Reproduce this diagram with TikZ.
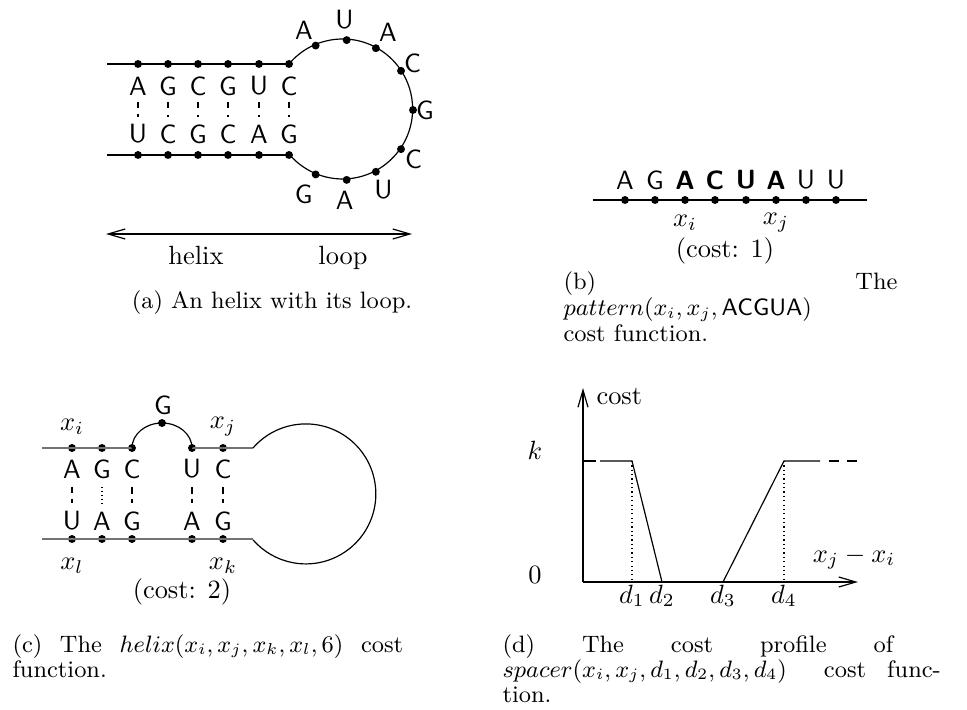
\documentclass[tikz,border=0pt]{standalone}
\usetikzlibrary{arrows.meta}
\begin{document}
\begin{tikzpicture}[x=0.3788pt,y=-0.3788pt,
  dot/.style={circle,fill=black,inner sep=0pt,minimum size=3pt},
  nuc/.style={font=\sffamily,inner sep=0pt},
  bnuc/.style={font=\sffamily\bfseries,inner sep=0pt},
  lbl/.style={inner sep=0pt},
  wire/.style={line width=0.45pt},
  gwire/.style={line width=0.8pt,draw=black!55},
  pairline/.style={line width=0.4pt,dash pattern=on 2.3pt off 2.5pt,shorten <=2.3pt,shorten >=2.6pt},
  cpair/.style={line width=0.4pt,dash pattern=on 2.6pt off 2pt,shorten <=3pt,shorten >=3pt},
  wobline/.style={line width=0.45pt,dash pattern=on 0.45pt off 1.1pt,shorten <=3pt,shorten >=3pt},
  vdots/.style={line width=0.45pt,dash pattern=on 0.45pt off 1.2pt},
  barb/.style={-{Straight Barb[length=6.5pt,width=3.8pt]}},
  captext/.style={font=\small,inner sep=0pt}
]
\useasboundingbox (0,0) rectangle (967,710);

%% ---------------- (a) ----------------
\coordinate (aTL) at (107,64);
\coordinate (aBL) at (107,155);
\coordinate (ac) at (343,110);
\foreach \i/\x in {1/138,2/168,3/198,4/228,5/259,6/289}{
  \node[dot] (t\i) at (\x,64) {};
  \node[dot] (b\i) at (\x,155) {};
}
\draw[wire] (aTL) -- (t6.center);
\draw[wire] (aBL) -- (b6.center);
\draw[wire] (t6.center) arc[start angle=-140, end angle=140, radius=70];
\foreach \i/\x/\u/\l in {1/138/A/U,2/168/G/C,3/198/C/G,4/228/G/C,5/259/U/A,6/289/C/G}{
  \node[nuc] (tl\i) at (\x,86) {\u};
  \node[nuc] (bl\i) at (\x,134) {\l};
  \draw[pairline] (tl\i.south) -- (bl\i.north);
}
\foreach \k/\a in {1/-113,2/-87,3/-62,4/-34,5/0,6/34,7/62,8/87,9/113}{
  \node[dot] (ld\k) at ([shift={(\a:70)}]ac) {};
}
\foreach \k/\a/\r/\n in {1/-116/89/A,2/-89/90/U,3/-60/90/A,4/-34/84/C,5/0/82/G,6/35/86/C,7/63/89/U,8/89/90/A,9/115/93/G}{
  \node[nuc] (ll\k) at ([shift={(\a:\r)}]ac) {\n};
}
\coordinate (ha1) at (106,234);
\coordinate (ha2) at (289,234);
\coordinate (ha3) at (412,234);
\draw[wire,barb] (ha2) -- (ha1);
\draw[wire,barb] (ha2) -- (ha3);
\node[lbl,anchor=base] (helixlbl) at (196,265) {helix};
\node[lbl,anchor=base] (looplbl) at (343,265) {loop};
\node[captext,anchor=base] (capa) at (272,309) {(a) An helix with its loop.};

%% ---------------- (b) ----------------
\coordinate (bL) at (593,200);
\coordinate (bR) at (867,200);
\draw[wire] (bL) -- (bR);
\foreach \i/\x in {1/625,2/655,3/685,4/715,5/746,6/776,7/806,8/836}{
  \node[dot] (p\i) at (\x,200) {};
}
\foreach \i/\x/\n in {1/625/A,2/655/G,7/806/U,8/836/U}{
  \node[nuc] (pl\i) at (\x,180) {\n};
}
\foreach \i/\x/\n in {3/685/A,4/715/C,5/746/U,6/776/A}{
  \node[bnuc] (pl\i) at (\x,180) {\n};
}
\node[lbl] (bxi) at (685,223) {$x_i$};
\node[lbl] (bxj) at (776,223) {$x_j$};
\node[lbl] (costb) at (725,251) {(cost: 1)};
\node[captext,anchor=base west] (capb1) at (563,290) {\hbox to 126.5pt{(b)\hfill The}};
\node[captext,anchor=base west] (capb2) at (563,316) {$pattern(x_i,x_j,\textsf{ACGUA})$};
\node[captext,anchor=base west] (capb3) at (563,342) {cost function.};

%% ---------------- (c) ----------------
\coordinate (cTL) at (42,448);
\coordinate (cTR) at (253,448);
\coordinate (cBL) at (42,539);
\coordinate (cBR) at (253,539);
\coordinate (cc) at (305,493);
\foreach \i/\x in {1/72,2/102,3/132,4/192,5/223}{
  \node[dot] (ct\i) at (\x,448) {};
  \node[dot] (cb\i) at (\x,539) {};
}
\draw[gwire] (cTL) -- (ct3.center);
\draw[gwire] (ct4.center) -- (cTR);
\draw[gwire] (cBL) -- (cBR);
\draw[wire] (ct3.center) arc[start angle=180, end angle=360, x radius=30, y radius=25];
\node[dot] (cgd) at (162,423) {};
\node[nuc] (cgl) at (163,405) {G};
\draw[wire] (cTR) arc[start angle=-139, end angle=139, radius=70];
\foreach \i/\x/\u/\l in {1/72/A/U,2/102/G/A,3/132/C/G,4/192/U/A,5/223/C/G}{
  \node[nuc] (ctl\i) at (\x,469) {\u};
  \node[nuc] (cbl\i) at (\x,521) {\l};
}
\draw[cpair] (ctl1.south) -- (cbl1.north);
\draw[wobline] (ctl2.south) -- (cbl2.north);
\draw[cpair] (ctl3.south) -- (cbl3.north);
\draw[cpair] (ctl4.south) -- (cbl4.north);
\draw[cpair] (ctl5.south) -- (cbl5.north);
\node[lbl] (cxi) at (72,427) {$x_i$};
\node[lbl] (cxj) at (223,427) {$x_j$};
\node[lbl] (cxl) at (72,566) {$x_l$};
\node[lbl] (cxk) at (223,566) {$x_k$};
\node[lbl] (costc) at (182,592) {(cost: 2)};
\node[captext,anchor=base west] (capc1) at (12,652)
  {\hbox to 148pt{(c)\hfill The\hfill $helix(x_i,x_j,x_k,x_l,6)$\hfill cost}};
\node[captext,anchor=base west] (capc2) at (12,677) {function.};

%% ---------------- (d) ----------------
\coordinate (O) at (583,582);
\coordinate (Ytop) at (583,388);
\coordinate (Xend) at (858,582);
\draw[wire,barb] (O) -- (Ytop);
\draw[wire,barb] (O) -- (Xend);
\coordinate (k0) at (583,461);
\coordinate (k1) at (596,461);
\coordinate (k2) at (600,461);
\coordinate (D1) at (632,461);
\coordinate (D2) at (662,582);
\coordinate (D3) at (723,582);
\coordinate (D4) at (784,461);
\coordinate (k3) at (820,461);
\coordinate (k4) at (829,461);
\coordinate (k5) at (839,461);
\coordinate (k6) at (847,461);
\coordinate (k7) at (857,461);
\draw[wire] (k0) -- (k1);
\draw[wire] (k2) -- (D1) -- (D2) -- (D3) -- (D4) -- (k3);
\draw[wire] (k4) -- (k5);
\draw[wire] (k6) -- (k7);
\draw[vdots] (D1) -- (D1 |- O);
\draw[vdots] (D4) -- (D4 |- O);
\node[lbl,anchor=base west] (costlbl) at (596,405) {cost};
\node[lbl,anchor=base] (klbl) at (535,460) {$k$};
\node[lbl,anchor=base] (zlbl) at (535,583) {$0$};
\node[lbl,anchor=base] (xlbl) at (854,562) {$x_j-x_i$};
\node[lbl,anchor=base] (d1l) at (632,603) {$d_1$};
\node[lbl,anchor=base] (d2l) at (662,603) {$d_2$};
\node[lbl,anchor=base] (d3l) at (723,603) {$d_3$};
\node[lbl,anchor=base] (d4l) at (784,603) {$d_4$};
\node[captext,anchor=base west] (capd1) at (502,652)
  {\hbox to 148pt{(d)\hfill The\hfill cost\hfill profile\hfill of}};
\node[captext,anchor=base west] (capd2) at (502,677)
  {\hbox{$spacer(x_i,x_j,d_1,d_2,d_3,d_4)$\hspace{14pt}cost\hspace{8pt}func-}};
\node[captext,anchor=base west] (capd3) at (502,702) {tion.};
\end{tikzpicture}
\end{document}
